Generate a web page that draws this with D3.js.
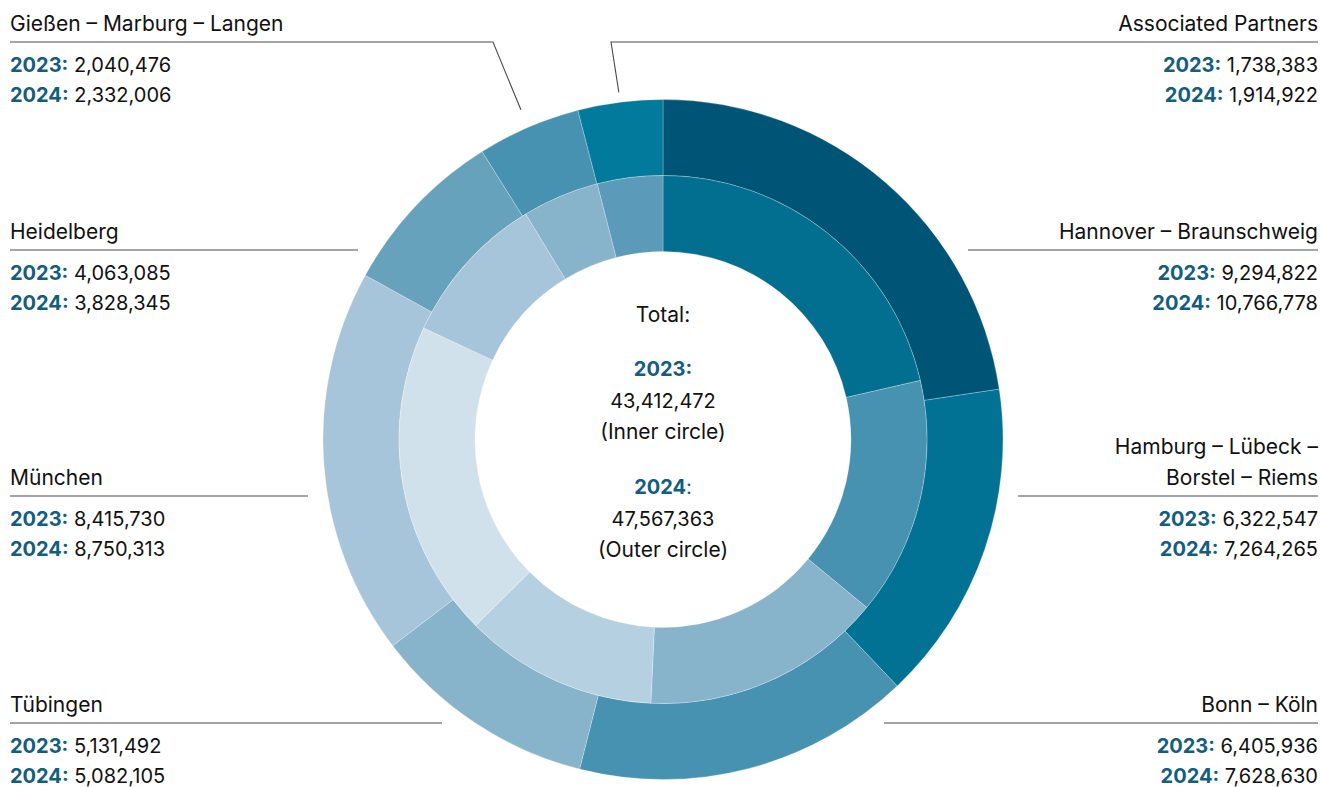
<!DOCTYPE html>
<html>
<head>
<meta charset="utf-8">
<script src="https://cdn.jsdelivr.net/npm/d3@7"></script>
<style>
  html, body { margin: 0; padding: 0; background: #fff; }
  svg { display: block; }
  text { font-family: Inter, "Open Sans", sans-serif; fill: #111; }
</style>
</head>
<body>
<svg id="chart" width="1320" height="787"></svg>
<script>
// Visitor numbers per region, clockwise from 12 o'clock
const regions = [
  "Hannover – Braunschweig",
  "Hamburg – Lübeck – Borstel – Riems",
  "Bonn – Köln",
  "Tübingen",
  "München",
  "Heidelberg",
  "Gießen – Marburg – Langen",
  "Associated Partners"
];
const values2023 = [9294822, 6322547, 6405936, 5131492, 8415730, 4063085, 2040476, 1738383];
const values2024 = [10766778, 7264265, 7628630, 5082105, 8750313, 3828345, 2332006, 1914922];
const total2023 = 43412472;
const total2024 = 47567363;

// Ring colours (outer ring = 2024, inner ring = 2023)
const outerColors = ["#005577", "#017293", "#4692b0", "#87b3cb", "#a6c5da", "#67a2bd", "#4692b0", "#017a9b"];
const innerColors = ["#026f90", "#4692b0", "#87b3cb", "#b4d0e1", "#d1e1ec", "#a6c5da", "#88b4cb", "#5b9bb9"];

// Label layout: which side, rule y, end of the rule near the ring, name lines
const labelLayout = [
  { side: "right", ruleY: 250, ruleEnd: 968, names: ["Hannover – Braunschweig"] },
  { side: "right", ruleY: 496, ruleEnd: 1018, names: ["Hamburg – Lübeck –", "Borstel – Riems"] },
  { side: "right", ruleY: 723, ruleEnd: 884, names: ["Bonn – Köln"] },
  { side: "left",  ruleY: 723, ruleEnd: 442, names: ["Tübingen"] },
  { side: "left",  ruleY: 496, ruleEnd: 308, names: ["München"] },
  { side: "left",  ruleY: 250, ruleEnd: 358, names: ["Heidelberg"] },
  { side: "left",  ruleY: 42,  ruleEnd: 493, names: ["Gießen – Marburg – Langen"], leader: 19 },
  { side: "right", ruleY: 42,  ruleEnd: 611, names: ["Associated Partners"], leader: 10 }
];

const W = 1320, H = 787;
const cx = 663, cy = 439.5;
const rHole = 188, rMid = 264, rOuter = 340;
const yearColor = "#135e7e";
const fmt = d3.format(",");

const svg = d3.select("#chart");
const g = svg.append("g").attr("transform", `translate(${cx},${cy})`);

const pie = d3.pie().sort(null).value(d => d);
const outerArcs = pie(values2024);
const innerArcs = pie(values2023);

const arcOuter = d3.arc().innerRadius(rMid).outerRadius(rOuter);
const arcInner = d3.arc().innerRadius(rHole).outerRadius(rMid);

g.selectAll("path.outer").data(outerArcs).join("path")
  .attr("class", "outer")
  .attr("d", arcOuter)
  .attr("fill", (d, i) => outerColors[i])
  .attr("stroke", "#fff").attr("stroke-opacity", 0.5).attr("stroke-width", 0.5);

g.selectAll("path.inner").data(innerArcs).join("path")
  .attr("class", "inner")
  .attr("d", arcInner)
  .attr("fill", (d, i) => innerColors[i])
  .attr("stroke", "#fff").attr("stroke-opacity", 0.5).attr("stroke-width", 0.5);

// Centre totals
const centre = svg.append("g").attr("text-anchor", "middle").style("font-size", "20px");
centre.append("text").attr("x", cx).attr("y", 322).style("font-size", "21px").text("Total:");
centre.append("text").attr("x", cx).attr("y", 376)
  .style("font-weight", 700).style("fill", yearColor).text("2023:");
centre.append("text").attr("x", cx).attr("y", 408).text(fmt(total2023));
centre.append("text").attr("x", cx).attr("y", 439).style("font-size", "21px").text("(Inner circle)");
const t24 = centre.append("text").attr("x", cx).attr("y", 494).style("fill", yearColor);
t24.append("tspan").style("font-weight", 700).text("2024");
t24.append("tspan").text(":");
centre.append("text").attr("x", cx).attr("y", 526).text(fmt(total2024));
centre.append("text").attr("x", cx).attr("y", 557).style("font-size", "21px").text("(Outer circle)");

// Region labels with rules and leaders
const labels = svg.append("g").style("font-size", "20px");
const lineGen = d3.line();

labelLayout.forEach((lay, i) => {
  const left = lay.side === "left";
  const xText = left ? 10 : 1318;
  const anchor = left ? "start" : "end";
  const pts = [[xText, lay.ruleY], [lay.ruleEnd, lay.ruleY]];
  if (lay.leader) {
    const a = (outerArcs[i].startAngle + outerArcs[i].endAngle) / 2;
    const r = rOuter + lay.leader;
    pts.push([cx + r * Math.sin(a), cy - r * Math.cos(a)]);
  }
  labels.append("path")
    .attr("d", lineGen(pts))
    .attr("fill", "none").attr("stroke", "#4a4a4a").attr("stroke-width", 1.1);

  const n = lay.names.length;
  lay.names.forEach((name, k) => {
    labels.append("text")
      .attr("x", xText).attr("y", lay.ruleY - 11 - (n - 1 - k) * 31)
      .attr("text-anchor", anchor).style("font-size", "21px").text(name);
  });

  [["2023:", values2023[i], 30], ["2024:", values2024[i], 60]].forEach(([yr, v, dy]) => {
    const t = labels.append("text")
      .attr("x", xText).attr("y", lay.ruleY + dy).attr("text-anchor", anchor);
    t.append("tspan").style("font-weight", 700).style("fill", yearColor).text(yr);
    t.append("tspan").text(" " + fmt(v));
  });
});
</script>
</body>
</html>
